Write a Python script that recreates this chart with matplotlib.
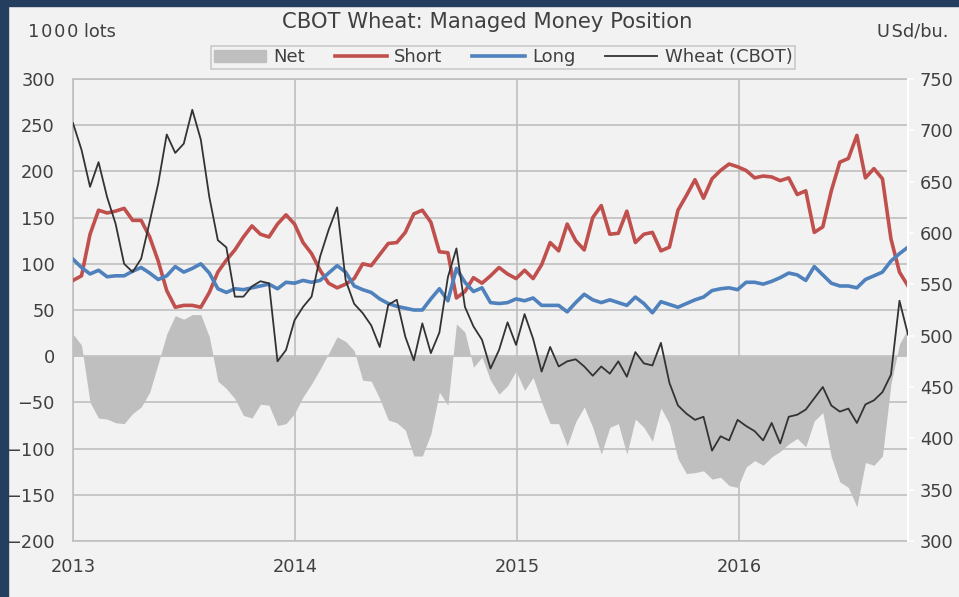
import matplotlib
matplotlib.use("Agg")
import matplotlib.pyplot as plt
import matplotlib.patches as mpatches
import matplotlib.lines as mlines
import pandas as pd

dates = pd.date_range("2013-01-01", periods=99, freq="14D")

net = [24, 12, -50, -67, -68, -72, -73, -62, -55, -39, -8, 24, 44, 40, 45, 45, 21, -27, -35, -46,
       -64, -67, -52, -53, -75, -73, -62, -44, -30, -14, 3, 21, 16,
       6, -26, -27, -46, -69, -72, -80, -108, -108, -84, -39, -53, 35, 26, -12, -1, -26, -41, -32, -16,
       -37, -23, -50, -73, -73, -97, -71, -55, -77, -106, -77, -73, -106,
       -68, -77, -92, -56, -73, -111, -127, -126, -124, -133, -131, -140, -142, -120, -113, -118, -109,
       -103, -95, -89, -98, -70, -61, -109, -136, -142, -163, -115, -118, -108, -30, 13, 30]

short = [82, 87, 132, 158, 155, 157, 160, 147, 147, 129, 103, 71, 53, 55, 55, 53, 69, 91, 104, 115,
         129, 141, 132, 129, 143, 153, 143, 123, 111, 93, 79, 74, 78,
         84, 100, 98, 110, 122, 123, 134, 154, 158, 145, 113, 112, 63, 70, 85, 79, 87, 96, 89, 84,
         93, 84, 99, 123, 114, 143, 125, 115, 150, 163, 132, 133, 157,
         123, 132, 134, 114, 118, 158, 174, 191, 171, 192, 201, 208, 205, 201, 193, 195, 194, 190, 193, 175,
         179, 134, 140, 179, 210, 214, 239, 193, 203, 192, 127, 91, 76]

long = [105, 96, 89, 93, 86, 87, 87, 92, 96, 90, 83, 87, 97, 91, 95, 100, 90, 73, 69, 73,
        72, 74, 76, 78, 73, 80, 79, 82, 80, 82, 90, 98, 91,
        76, 72, 69, 62, 57, 54, 52, 50, 50, 62, 73, 60, 95, 80, 70, 74, 58, 57, 58, 62,
        60, 63, 55, 55, 55, 48, 58, 67, 61, 58, 61, 58, 55,
        64, 57, 47, 59, 56, 53, 57, 61, 64, 71, 73, 74, 72, 80, 80, 78, 81, 85, 90, 88,
        82, 97, 88, 79, 76, 76, 74, 83, 87, 91, 103, 111, 118]

wheat = [707, 681, 645, 669, 635, 609, 570, 562, 575, 611, 648, 696, 678, 687, 720, 691, 635, 593, 586, 538,
         538, 548, 553, 551, 475, 486, 515, 528, 538, 577, 603, 625, 554,
         531, 522, 510, 489, 530, 535, 499, 476, 512, 483, 503, 557, 585, 528, 509, 496, 468, 486, 513, 491,
         521, 497, 465, 489, 470, 475, 477, 470, 461, 470, 463, 475, 460,
         484, 473, 471, 493, 454, 432, 424, 418, 421, 388, 402, 398, 418, 412, 407, 398, 415, 395, 421, 423,
         428, 439, 450, 432, 426, 429, 415, 433, 437, 445, 462, 534, 501]

year_ticks = ["2013", "2014", "2015", "2016"]
left_ticks = list(range(-200, 301, 50))
right_ticks = list(range(300, 751, 50))

BG = "#F2F2F2"
GRID = "#BFBFBF"
TXT = "#404040"
RED = "#C0504D"
BLUE = "#4F81BD"
NETC = "#BFBFBF"
WHEAT = "#333333"
FS = 12.8
HS = "\u200a"

fig = plt.figure(figsize=(9.59, 5.97), dpi=100, facecolor=BG)
fig.patches.append(mpatches.Rectangle((0, 0), 8 / 959, 1, transform=fig.transFigure,
                                      color="#243E60", zorder=0))
fig.patches.append(mpatches.Rectangle((0, 1 - 6 / 597), 1, 6 / 597, transform=fig.transFigure,
                                      color="#243E60", zorder=0))

ax = fig.add_axes([73 / 959, 1 - 541 / 597, (908 - 73) / 959, (541 - 79) / 597])
ax.set_facecolor(BG)
ax.fill_between(dates, 0, net, color=NETC, linewidth=0, zorder=2)
ax.plot(dates, short, color=RED, linewidth=2.6, zorder=3, solid_joinstyle="round")
ax.plot(dates, long, color=BLUE, linewidth=2.6, zorder=3, solid_joinstyle="round")
ax.set_ylim(-200, 300)
ax.set_yticks(left_ticks)
ax.set_xlim(dates[0], dates[-1])
ax.set_xticks([pd.Timestamp(y + "-01-01") for y in year_ticks])
ax.set_xticklabels(year_ticks)
ax.grid(True, color=GRID, linewidth=1.2, zorder=1)
ax.set_axisbelow(True)
ax.tick_params(axis="y", length=0, pad=13, labelsize=FS, labelcolor=TXT)
ax.tick_params(axis="x", length=0, pad=12, labelsize=FS, labelcolor=TXT)
for s in ["left", "bottom", "top"]:
    ax.spines[s].set_color(GRID)
    ax.spines[s].set_linewidth(1.2)
ax.spines["right"].set_visible(False)

ax2 = ax.twinx()
ax2.plot(dates, wheat, color=WHEAT, linewidth=1.3, zorder=4)
ax2.set_ylim(300, 750)
ax2.set_yticks(right_ticks)
ax2.tick_params(axis="y", length=4, width=1.2, color="white", pad=4.5, labelsize=FS, labelcolor=TXT)
for s in ["left", "bottom", "top"]:
    ax2.spines[s].set_visible(False)
ax2.spines["right"].set_color("white")
ax2.spines["right"].set_linewidth(1.5)
ax2.set_xlim(dates[0], dates[-1])

fig.text(487 / 959, 1 - 22 / 597, "CBOT Wheat: Managed Money Position", ha="center", va="center",
         fontsize=15.2, color=TXT)
fig.text(28 / 959, 1 - 32 / 597, HS.join("1000") + " lots", ha="left", va="center",
         fontsize=12.8, color=TXT)
fig.text(948 / 959, 1 - 32 / 597, "U" + HS + "Sd/bu.", ha="right", va="center", fontsize=12.8,
         color=TXT)

handles = [mpatches.Patch(color=NETC, label="Net"),
           mlines.Line2D([], [], color=RED, linewidth=2.6, label="Short"),
           mlines.Line2D([], [], color=BLUE, linewidth=2.6, label="Long"),
           mlines.Line2D([], [], color=WHEAT, linewidth=1.3, label="Wheat (CBOT)")]
leg = fig.legend(handles=handles, loc="center", bbox_to_anchor=(503 / 959, 1 - 57.5 / 597), ncol=4,
                 frameon=True, fontsize=13, fancybox=False, edgecolor=GRID, facecolor=BG,
                 handlelength=2.9, handleheight=0.65, columnspacing=1.65, handletextpad=0.4,
                 borderpad=0.15, borderaxespad=0, labelcolor=TXT)
leg.get_frame().set_linewidth(1.2)

fig.savefig("out.png", dpi=100, facecolor=BG)
